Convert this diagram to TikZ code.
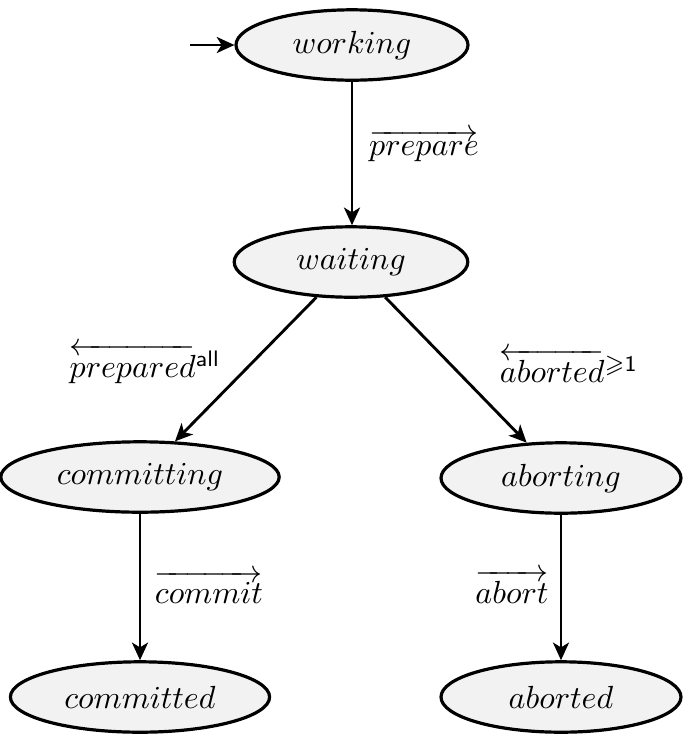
\documentclass[tikz,border=0pt]{standalone}
\usepackage{amsmath,amssymb}
\usetikzlibrary{shapes.geometric,arrows.meta}
\begin{document}
\begin{tikzpicture}[x=0.3125pt,y=-0.3125pt,
  state/.style={ellipse, draw, line width=1pt, fill=gray!10, inner sep=0pt, minimum height=22pt},
  tr/.style={line width=0.9pt, -{Stealth[length=5.5pt,width=5pt,inset=1.5pt]}},
  lbl/.style={inner sep=0pt}]
\useasboundingbox (0,0) rectangle (685,741);
\node[state, minimum width=72.5pt] (working) at (352,45) {$working$};
\node[state, minimum width=73pt] (waiting) at (351,262) {$waiting$};
\node[state, minimum width=87pt] (committing) at (140,477) {$committing$};
\node[state, minimum width=75pt] (aborting) at (561,478) {$aborting$};
\node[state, minimum width=81pt] (committed) at (140,697) {$committed$};
\node[state, minimum width=75pt] (aborted) at (561,697) {$aborted$};
\coordinate (init) at (190,45);
\draw[tr] (init) -- (working);
\draw[tr] (working.south) -- (waiting.north -| working.south);
\draw[tr] (waiting) -- (committing);
\draw[tr] (waiting) -- (aborting);
\draw[tr] (committing.south) -- (committed.north);
\draw[tr] (aborting.south) -- (aborted.north);
\node[lbl] (lprep) at (424,146) {$\overrightarrow{prepare}$};
\node[lbl] (lprepd) at (145,364) {$\overleftarrow{prepared}^{\textsf{all}}$};
\node[lbl] (labd) at (569,366) {$\overleftarrow{aborted}^{\geqslant\textsf{1}}$};
\node[lbl] (lcom) at (209,587) {$\overrightarrow{commit}$};
\node[lbl] (labo) at (512,587) {$\overrightarrow{abort}$};
\end{tikzpicture}
\end{document}
